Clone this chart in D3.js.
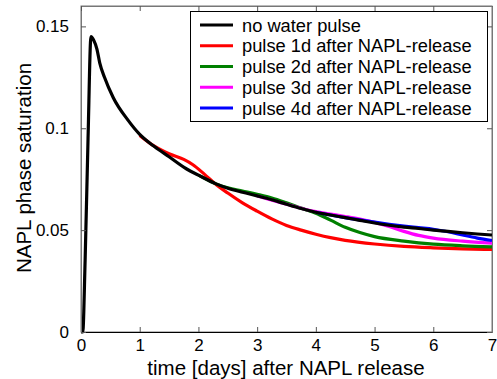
<!DOCTYPE html>
<html><head><meta charset="utf-8">
<script src="https://cdn.jsdelivr.net/npm/d3@7"></script>
<style>
body{margin:0;background:#fff;}
text{font-family:"Liberation Sans",Arial,sans-serif;fill:#000;}
</style></head>
<body><svg id="c" width="497" height="379"></svg>
<script>
// ---- data ----
const seriesNames = ["no water pulse","pulse 1d after NAPL-release","pulse 2d after NAPL-release","pulse 3d after NAPL-release","pulse 4d after NAPL-release"];
const seriesColors = ["#000000","#ff0000","#008000","#ff00ff","#0000ff"];
const xTicks = [0,1,2,3,4,5,6,7];
const yTicks = [0,0.05,0.1,0.15];
const yTickLabels = ["0","0.05","0.1","0.15"];

const blackX = [0,0.03,0.07,0.12,0.17,0.22,0.27,0.32,0.4,0.55,0.8,1.0,1.25,1.5,1.8,2.0,2.3,2.5,2.75,3.0,3.25,3.5,3.75,4.0,4.25,4.5,4.75,5.0,5.25,5.5,5.75,6.0,6.25,6.5,6.75,7.0];
const blackY = [0,0,0.035,0.095,0.145,0.143,0.139,0.132,0.125,0.115,0.104,0.097,0.091,0.086,0.0800,0.0770,0.0727,0.0706,0.0686,0.0668,0.0649,0.0627,0.0606,0.0588,0.0574,0.0561,0.0548,0.0535,0.0524,0.0515,0.0508,0.0500,0.0494,0.0487,0.0481,0.0476];

const redX = [1.0,1.25,1.5,1.75,1.9,2.1,2.3,2.5,2.75,3.0,3.25,3.5,3.75,4.0,4.25,4.5,5.0,5.5,6.0,6.5,7.0];
const redY = [0.0965,0.0912,0.0875,0.0847,0.0822,0.0775,0.0724,0.0682,0.0634,0.0593,0.0555,0.0523,0.0500,0.0480,0.0463,0.0450,0.0432,0.0420,0.0413,0.0408,0.0405];

const greenX = [2.0,2.3,2.5,2.75,3.0,3.25,3.5,3.75,4.0,4.25,4.5,4.75,5.0,5.5,6.0,6.5,7.0];
const greenY = [0.0770,0.0727,0.0708,0.0692,0.0676,0.0658,0.0634,0.0608,0.0583,0.0549,0.0514,0.0488,0.0468,0.0446,0.0431,0.0423,0.0418];

const magentaX = [3.0,3.5,4.0,4.25,4.5,4.75,5.0,5.25,5.5,5.75,6.0,6.5,7.0];
const magentaY = [0.0668,0.0627,0.0591,0.0579,0.0567,0.0554,0.0538,0.0518,0.0494,0.0474,0.0461,0.0446,0.0436];

const blueX = [4.0,4.5,4.75,5.0,5.25,5.5,5.75,6.0,6.25,6.5,6.75,7.0];
const blueY = [0.0588,0.0561,0.0550,0.0539,0.0529,0.0520,0.0512,0.0504,0.0492,0.0476,0.0461,0.0449];

// ---- layout ----
const L=81, R=492, T=6, B=332;
const x = d3.scaleLinear().domain([0,7]).range([L,R]);
const y = d3.scaleLinear().domain([0,0.16]).range([B,T]);
const svg = d3.select("#c");

const zip = (xs,ys)=>xs.map((v,i)=>[v,ys[i]]);
const data = [zip(blackX,blackY),zip(redX,redY),zip(greenX,greenY),zip(magentaX,magentaY),zip(blueX,blueY)];

const line = d3.line().x(d=>x(d[0])).y(d=>y(d[1])).curve(d3.curveMonotoneX);

// frame
svg.append("rect").attr("x",L).attr("y",T).attr("width",R-L).attr("height",B-T)
  .attr("fill","none").attr("stroke","#777").attr("stroke-width",1);

// curves: colored first, black on top
const order=[1,2,3,4,0];
order.forEach(i=>{
  svg.append("path").datum(data[i]).attr("d",line).attr("fill","none")
    .attr("stroke",seriesColors[i]).attr("stroke-width",3.2).attr("stroke-linejoin","round");
});

// axes
const xAxis = d3.axisBottom(x).tickValues(xTicks).tickSizeInner(-5).tickSizeOuter(0).tickPadding(7).tickFormat(d3.format("d"));
const gx = svg.append("g").attr("transform",`translate(0,${B})`).call(xAxis);
const yAxis = d3.axisLeft(y).tickValues(yTicks).tickSizeInner(-5).tickSizeOuter(0).tickPadding(12).tickFormat((d,i)=>yTickLabels[i]);
const gy = svg.append("g").attr("transform",`translate(${L},0)`).call(yAxis);
const xTop = d3.axisTop(x).tickValues(xTicks).tickSizeInner(-5).tickSizeOuter(0).tickFormat("");
svg.append("g").attr("transform",`translate(0,${T})`).call(xTop);
const yRight = d3.axisRight(y).tickValues(yTicks).tickSizeInner(-5).tickSizeOuter(0).tickFormat("");
svg.append("g").attr("transform",`translate(${R},0)`).call(yRight);
svg.selectAll(".domain").attr("stroke","#777");
gx.select(".domain").attr("stroke","#000");
svg.selectAll(".tick line").attr("stroke","#555");
svg.selectAll(".tick text").attr("font-size",17).attr("font-family","Liberation Sans, Arial, sans-serif").attr("fill","#000");

// axis labels
svg.append("text").attr("x",286).attr("y",375).attr("text-anchor","middle").attr("font-size",20.5)
  .text("time [days] after NAPL release");
svg.append("text").attr("transform","translate(31,168) rotate(-90)").attr("text-anchor","middle").attr("font-size",20.5)
  .text("NAPL phase saturation");

// legend
const lg = svg.append("g");
lg.append("rect").attr("x",190.5).attr("y",11.5).attr("width",297).attr("height",110)
  .attr("fill","#fff").attr("stroke","#000").attr("stroke-width",1);
seriesNames.forEach((n,i)=>{
  const cy = 25 + i*20.75;
  lg.append("line").attr("x1",200).attr("x2",233).attr("y1",cy).attr("y2",cy)
    .attr("stroke",seriesColors[i]).attr("stroke-width",3.2);
  lg.append("text").attr("x",242).attr("y",cy+6.5).attr("font-size",18.3).text(n);
});
</script></body></html>
